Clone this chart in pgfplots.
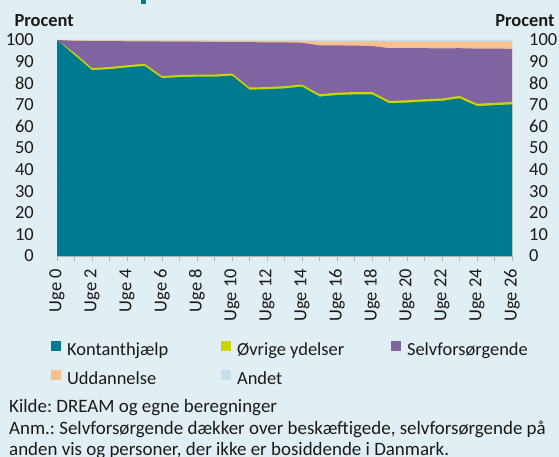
\documentclass[border=0pt]{standalone}
\usepackage{pgfplots}
\pgfplotsset{compat=1.18}
\usepackage{pgfplotstable}
\usepackage{fontspec}
\setmainfont{Carlito}
\frenchspacing

\definecolor{bg}{HTML}{E1EEF3}
\definecolor{teal}{HTML}{007A8F}
\definecolor{gul}{HTML}{C9D400}
\definecolor{lilla}{HTML}{8064A2}
\definecolor{fersken}{HTML}{FAC090}
\definecolor{andet}{HTML}{C3DFE9}
\definecolor{txt}{HTML}{1A1A1A}

% cumulative tops of each layer (procent)
\pgfplotstableread{
uge K Y P U A
0 100 100 100 100 100
1 93.0 94.0 99.6 99.9 100
2 86.0 87.0 99.5 99.8 100
3 86.5 87.5 99.5 99.8 100
4 87.3 88.3 99.4 99.8 100
5 88.0 89.0 99.4 99.7 100
6 82.3 83.3 99.3 99.7 100
7 82.8 83.8 99.3 99.7 100
8 83.0 84.0 99.2 99.7 100
9 83.0 84.0 99.1 99.6 100
10 83.5 84.5 99.0 99.6 100
11 77.0 78.0 99.0 99.6 100
12 77.2 78.2 98.9 99.5 100
13 77.6 78.6 98.9 99.5 100
14 78.4 79.4 98.7 99.5 100
15 73.8 74.9 97.5 99.4 100
16 74.5 75.6 97.5 99.4 100
17 74.8 75.9 97.4 99.4 100
18 74.8 75.9 97.2 99.4 100
19 70.7 71.8 96.2 99.3 100
20 71.0 72.1 96.2 99.3 100
21 71.5 72.6 96.2 99.3 100
22 71.8 72.9 96.1 99.3 100
23 73.0 74.1 96.2 99.3 100
24 69.4 70.5 96.0 99.2 100
25 69.8 70.9 96.0 99.2 100
26 70.2 71.3 95.9 99.2 100
}\data

\begin{document}
\begin{tikzpicture}[font=\fontsize{18.5}{22}\selectfont, color=txt]
\fill[bg, use as bounding box] (0,0) rectangle (559bp,457bp);
\fill[teal] (141bp,453bp) rectangle (145.5bp,457bp);

\begin{axis}[
  at={(57bp,201bp)}, anchor=south west,
  scale only axis, width=455bp, height=216bp,
  xmin=0, xmax=26, ymin=0, ymax=100,
  axis x line*=bottom, axis y line*=left,
  x axis line style={gray!60, -}, y axis line style={draw=none},
  xtick={0,2,...,26}, minor xtick={1,3,...,25},
  xticklabels={Uge 0,Uge 2,Uge 4,Uge 6,Uge 8,Uge 10,Uge 12,Uge 14,Uge 16,Uge 18,Uge 20,Uge 22,Uge 24,Uge 26},
  tick align=outside, major tick length=5bp, minor tick length=5bp,
  x tick style={gray!60}, every minor tick/.style={gray!60},
  ytick={0,10,...,100}, y tick style={draw=none},
  xticklabel style={rotate=90, anchor=east, inner sep=0pt},
  yticklabel style={inner sep=0pt},
  xticklabel shift=8bp, yticklabel shift=18bp,
  tick label style={font=\fontsize{18.5}{22}\selectfont, color=txt},
  /pgf/number format/assume math mode=true,
  clip=false,
  legend columns=3,
  legend style={at={(axis description cs:-0.02,-0.383)}, anchor=north west,
    draw=none, fill=none, font=\fontsize{18.5}{22}\selectfont, text=txt,
    nodes={inner sep=0pt, text height=13bp, text depth=4bp},
    row sep=11bp, column sep=0pt,
    /tikz/every odd column/.style={column sep=6bp}},
  legend cell align=left,
  legend image code/.code={\fill[#1] (0bp,0bp) rectangle (10bp,10bp);},
]
\addlegendimage{fill=teal, draw=none}
\addlegendentry{\makebox[154bp][l]{Kontanthjælp}}
\addlegendimage{fill=gul, draw=none}
\addlegendentry{\makebox[154bp][l]{Øvrige ydelser}}
\addlegendimage{fill=lilla, draw=none}
\addlegendentry{Selvforsørgende}
\addlegendimage{fill=fersken, draw=none}
\addlegendentry{\makebox[154bp][l]{Uddannelse}}
\addlegendimage{fill=andet, draw=none}
\addlegendentry{\makebox[154bp][l]{Andet}}

\addplot[fill=andet, draw=none, forget plot] table[x=uge, y=A]{\data} \closedcycle;
\addplot[fill=fersken, draw=none, forget plot] table[x=uge, y=U]{\data} \closedcycle;
\addplot[fill=lilla, draw=none, forget plot] table[x=uge, y=P]{\data} \closedcycle;
\addplot[fill=gul, draw=none, forget plot] table[x=uge, y=Y]{\data} \closedcycle;
\addplot[fill=teal, draw=none, forget plot] table[x=uge, y=K]{\data} \closedcycle;
\end{axis}

\begin{axis}[
  at={(57bp,201bp)}, anchor=south west,
  scale only axis, width=455bp, height=216bp,
  xmin=0, xmax=26, ymin=0, ymax=100,
  hide x axis, axis y line*=right, y axis line style={draw=none},
  ytick={0,10,...,100}, y tick style={draw=none},
  yticklabel style={inner sep=0pt, anchor=west},
  yticklabel shift=17bp,
  tick label style={font=\fontsize{18.5}{22}\selectfont, color=txt},
  /pgf/number format/assume math mode=true,
]
\addplot[draw=none] coordinates {(0,0)};
\end{axis}

\node[anchor=west, font=\bfseries\fontsize{18.5}{22}\selectfont] at (11bp,436bp) {Procent};
\node[anchor=east, font=\bfseries\fontsize{18.5}{22}\selectfont] at (558bp,436bp) {Procent};

\begin{scope}[font=\fontsize{19}{22}\selectfont]
\node[anchor=base west, inner sep=0pt] at (9bp,44bp) {Kilde: DREAM og egne beregninger};
\node[anchor=base west, inner sep=0pt] at (9bp,23bp) {Anm.: Selvforsørgende dækker over beskæftigede, selvforsørgende på};
\node[anchor=base west, inner sep=0pt] at (9bp,2bp) {anden vis og personer, der ikke er bosiddende i Danmark.};
\end{scope}
\end{tikzpicture}
\end{document}
